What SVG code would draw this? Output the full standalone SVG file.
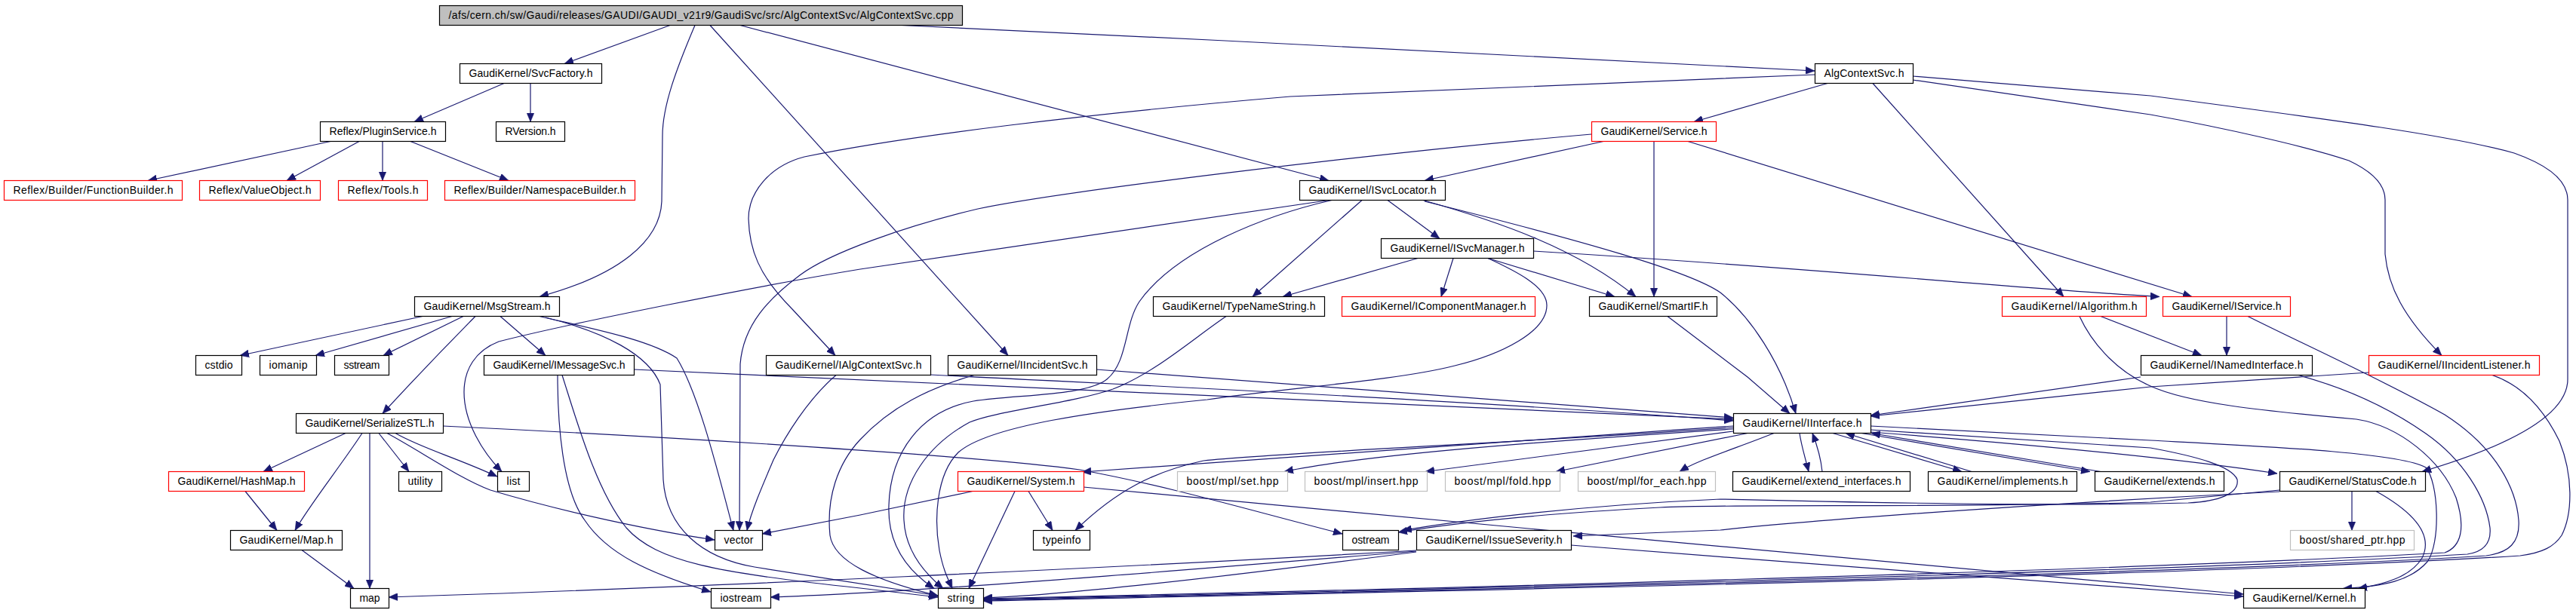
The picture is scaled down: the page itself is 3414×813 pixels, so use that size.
<svg xmlns="http://www.w3.org/2000/svg" width="3414" height="813" viewBox="0 0 3414 813">
<style>
.n rect{fill:#fff;stroke:#000;stroke-width:1.2}
.n.r rect{stroke:#ff0000}
.n.g rect{stroke:#bfbfbf}
.n.top rect{fill:#bfbfbf}
.n text{font-family:"Liberation Sans",Arial,sans-serif;font-size:14px;text-anchor:middle;fill:#000}
#edges path{fill:none;stroke:#191970;stroke-width:1.2;marker-end:url(#ah)}
</style>
<defs>
<marker id="ah" markerUnits="userSpaceOnUse" markerWidth="12" markerHeight="10" refX="12" refY="5" orient="auto">
<path d="M0,0 L12,5 L0,10 z" fill="#191970" stroke="#191970" stroke-width="0.5"/>
</marker>
</defs>
<rect width="3414" height="813" fill="#fff"/>
<g id="edges">
<path d="M888,33.5 L748,84.5"/>
<path d="M921,33.5 C897,90 878,140 878,180 L877,267 C875,320 820,365 715,393.5"/>
<path d="M941,33.5 L1336,471.5"/>
<path d="M981,33.5 L1761,239.5"/>
<path d="M1195,33.5 C1600,52 2100,78 2405,94"/>
<path d="M668,110.5 L549,161.5"/>
<path d="M703,110.5 L703,161.5"/>
<path d="M438,187.5 L196,239.5"/>
<path d="M476,187.5 L380,239.5"/>
<path d="M507,187.5 L507,239.5"/>
<path d="M544,187.5 L674,239.5"/>
<path d="M2422,110.5 L2245,161.5"/>
<path d="M2405,99 L1710,128 C1450,150 1200,180 1066,208 C1020,220 992,255 992,290 C993,330 1005,365 1050,410 L1107,471.5"/>
<path d="M2482,110.5 L2735,393.5"/>
<path d="M2535,106 L2850,152 C2950,170 3060,195 3113,213 C3145,228 3161,245 3161,265 L3161,337 C3165,380 3185,420 3236,471.5"/>
<path d="M2535,101 L2850,127 C3100,160 3250,180 3332,203 C3380,220 3403,240 3403,265 L3403,503 C3403,550 3330,590 3210,625.5"/>
<path d="M2125,187.5 L1888,239.5"/>
<path d="M2192,187.5 L2192,393.5"/>
<path d="M2237,187.5 L2905,393.5"/>
<path d="M2109,178 C1800,205 1400,255 1296,277 C1200,300 1100,335 1060,365 C1020,395 985,430 981,483 L980,703.5"/>
<path d="M1839,265.5 L1908,316.5"/>
<path d="M1886,265.5 C1990,295 2090,330 2168,393.5"/>
<path d="M1888,267 C2100,320 2240,360 2280,388 C2320,420 2360,480 2380,548.5"/>
<path d="M1805,265.5 L1660,393.5"/>
<path d="M1761,265.5 L1140,357 C1000,380 750,430 661,453 C630,465 615,490 615,520 C615,560 640,600 665,625.5"/>
<path d="M1765,265.5 C1680,285 1560,330 1510,400 C1490,430 1495,480 1467,503 C1440,525 1350,523 1290,532 C1220,545 1180,600 1178,670 C1176,720 1200,755 1238,780.5"/>
<path d="M1879,342.5 L1700,393.5"/>
<path d="M1926,342.5 L1910,393.5"/>
<path d="M1972,342.5 L2140,393.5"/>
<path d="M2032,333 C2400,355 2700,385 2862,393.5"/>
<path d="M1972,342.5 C2010,360 2050,380 2050,405 C2050,440 1990,470 1928,485 C1850,505 1700,515 1600,530 C1450,545 1310,565 1270,600 C1240,630 1238,690 1245,730 C1250,755 1255,765 1262,780.5"/>
<path d="M1625,419.5 C1580,450 1530,495 1475,516 C1420,535 1320,545 1285,560 C1230,590 1195,640 1198,690 C1200,730 1225,760 1250,780.5"/>
<path d="M2210,419.5 C2250,450 2290,480 2316,500 L2372,548.5"/>
<path d="M560,419.5 L318,471.5"/>
<path d="M599,419.5 L418,471.5"/>
<path d="M614,419.5 L508,471.5"/>
<path d="M630,419.5 C600,450 570,480 507,548.5"/>
<path d="M663,419.5 L723,471.5"/>
<path d="M715,419.5 C780,435 860,450 897,475 C925,520 950,620 972,703.5"/>
<path d="M723,421 C800,440 860,470 875,510 L879,636 C883,700 930,740 1000,752 C1080,765 1180,780 1243,790"/>
<path d="M840,490 C1300,510 1900,540 2297,556"/>
<path d="M739,497.5 C739,560 745,650 775,690 C805,735 860,760 942,785"/>
<path d="M745,497.5 C765,560 790,650 830,700 C870,745 950,760 1140,780 L1243,792"/>
<path d="M1233,497 C1600,515 2000,535 2297,558"/>
<path d="M1108,497.5 C1070,530 1040,580 1025,610 C1010,645 995,680 990,703.5"/>
<path d="M1453,490 C1800,515 2100,540 2297,554"/>
<path d="M1291,497.5 C1230,515 1180,540 1140,583 C1110,615 1095,660 1100,710 C1105,745 1160,770 1243,790"/>
<path d="M458,574.5 L349,625.5"/>
<path d="M480,574.5 C450,620 410,670 391,703.5"/>
<path d="M490,574.5 L490,780.5"/>
<path d="M502,574.5 L542,625.5"/>
<path d="M524,574.5 C560,595 600,605 659,632"/>
<path d="M513,574.5 C560,600 610,635 650,650 C750,680 870,705 947,716"/>
<path d="M587,565 C900,580 1300,605 1431,623 C1550,645 1650,675 1779,708"/>
<path d="M325,651.5 L367,703.5"/>
<path d="M400,729.5 L469,780.5"/>
<path d="M1363,651.5 L1395,703.5"/>
<path d="M1345,651.5 L1284,780.5"/>
<path d="M1289,651.5 L1140,683 L1010,708"/>
<path d="M1436,646 C1900,690 2500,745 2973,788"/>
<path d="M1877,730 C1500,752 900,780 515,792"/>
<path d="M1877,731 C1500,762 1200,786 1021,792"/>
<path d="M1877,732 C1600,768 1400,790 1303,793"/>
<path d="M2082,723 C2400,748 2750,775 2973,791"/>
<path d="M2297,565 C2000,585 1700,605 1434,626"/>
<path d="M2297,567 C2000,588 1700,600 1595,611 C1530,625 1480,650 1425,703.5"/>
<path d="M2297,569 C2000,588 1800,605 1702,625.5"/>
<path d="M2297,572 L1889,625.5"/>
<path d="M2316,574.5 L2062,625.5"/>
<path d="M2351,574.5 C2300,595 2250,610 2226,625.5"/>
<path d="M2385,574.5 C2387,590 2392,605 2397,625.5"/>
<path d="M2415,625.5 C2413,605 2408,590 2402,574.5"/>
<path d="M2429,574.5 L2600,625.5"/>
<path d="M2613,625.5 L2446,574.5"/>
<path d="M2467,574.5 L2770,625.5"/>
<path d="M2784,625.5 L2480,574.5"/>
<path d="M2479,573 C2700,590 2900,610 3018,628"/>
<path d="M2479,565 L2850,584 C3000,592 3180,600 3215,620 C3232,640 3235,720 3217,745 C3195,770 3160,778 3105,780.5"/>
<path d="M2479,570 L2850,594 C2910,605 2958,618 2965,636 C2968,655 2940,665 2900,667 C2700,672 2400,665 2280,662 C2100,670 1950,688 1859,703.5"/>
<path d="M3021,650 L2850,666 C2600,674 2300,668 2200,673 C2050,681 1930,693 1853,706"/>
<path d="M3021,652 C2700,668 2400,690 2280,703 L2085,711"/>
<path d="M3117,651.5 L3117,703.5"/>
<path d="M3149,651.5 C3200,680 3225,710 3210,740 C3195,765 3160,775 3125,780.5"/>
<path d="M2784,419.5 L2918,471.5"/>
<path d="M2951,419.5 L2951,471.5"/>
<path d="M2837,500 L2479,551"/>
<path d="M3139,494 L2850,513 L2479,552"/>
<path d="M2756,419.5 C2770,450 2800,490 2850,512 C2900,535 3000,545 3123,556 C3180,565 3235,610 3255,660 C3268,700 3262,725 3240,733 C2800,758 1800,783 1303,794"/>
<path d="M3046,497.5 C3110,515 3165,540 3215,575 C3265,610 3295,660 3300,700 C3302,722 3290,732 3270,735 C2850,760 1800,784 1303,795"/>
<path d="M2979,419.5 C3060,460 3160,505 3240,550 C3310,595 3335,650 3338,690 C3340,720 3325,733 3295,737 C2900,762 1800,785 1303,796"/>
<path d="M3303,497.5 C3340,510 3370,540 3392,585 C3410,630 3410,680 3395,710 C3385,725 3370,733 3340,737 C2900,765 1800,786 1303,797"/>
</g>
<g id="n_top" class="n top"><rect x="582.5" y="7.5" width="693" height="26"/><text x="929" y="25" textLength="669">/afs/cern.ch/sw/Gaudi/releases/GAUDI/GAUDI_v21r9/GaudiSvc/src/AlgContextSvc/AlgContextSvc.cpp</text></g>
<g id="n_svcfactory" class="n"><rect x="609.5" y="84.5" width="188" height="26"/><text x="703.5" y="102" textLength="164">GaudiKernel/SvcFactory.h</text></g>
<g id="n_algcontextsvc_h" class="n"><rect x="2405.5" y="84.5" width="130" height="26"/><text x="2470.5" y="102" textLength="106">AlgContextSvc.h</text></g>
<g id="n_pluginservice" class="n"><rect x="424.5" y="161.5" width="166" height="26"/><text x="507.5" y="179" textLength="142">Reflex/PluginService.h</text></g>
<g id="n_rversion" class="n"><rect x="657.5" y="161.5" width="91" height="26"/><text x="703" y="179" textLength="67">RVersion.h</text></g>
<g id="n_service" class="n r"><rect x="2109.5" y="161.5" width="165" height="26"/><text x="2192" y="179" textLength="141">GaudiKernel/Service.h</text></g>
<g id="n_functionbuilder" class="n r"><rect x="5.5" y="239.5" width="236" height="26"/><text x="123.5" y="257" textLength="212">Reflex/Builder/FunctionBuilder.h</text></g>
<g id="n_valueobject" class="n r"><rect x="264.5" y="239.5" width="160" height="26"/><text x="344.5" y="257" textLength="136">Reflex/ValueObject.h</text></g>
<g id="n_tools" class="n r"><rect x="448.5" y="239.5" width="118" height="26"/><text x="507.5" y="257" textLength="94">Reflex/Tools.h</text></g>
<g id="n_namespacebuilder" class="n r"><rect x="589.5" y="239.5" width="252" height="26"/><text x="715.5" y="257" textLength="228">Reflex/Builder/NamespaceBuilder.h</text></g>
<g id="n_isvclocator" class="n"><rect x="1722.5" y="239.5" width="193" height="26"/><text x="1819" y="257" textLength="169">GaudiKernel/ISvcLocator.h</text></g>
<g id="n_isvcmanager" class="n"><rect x="1830.5" y="316.5" width="202" height="26"/><text x="1931.5" y="334" textLength="178">GaudiKernel/ISvcManager.h</text></g>
<g id="n_msgstream" class="n"><rect x="549.5" y="393.5" width="192" height="26"/><text x="645.5" y="411" textLength="168">GaudiKernel/MsgStream.h</text></g>
<g id="n_typenamestring" class="n"><rect x="1528.5" y="393.5" width="227" height="26"/><text x="1642" y="411" textLength="203">GaudiKernel/TypeNameString.h</text></g>
<g id="n_icomponentmanager" class="n r"><rect x="1778.5" y="393.5" width="256" height="26"/><text x="1906.5" y="411" textLength="232">GaudiKernel/IComponentManager.h</text></g>
<g id="n_smartif" class="n"><rect x="2106.5" y="393.5" width="169" height="26"/><text x="2191" y="411" textLength="145">GaudiKernel/SmartIF.h</text></g>
<g id="n_ialgorithm" class="n r"><rect x="2653.5" y="393.5" width="191" height="26"/><text x="2749" y="411" textLength="167">GaudiKernel/IAlgorithm.h</text></g>
<g id="n_iservice" class="n r"><rect x="2866.5" y="393.5" width="169" height="26"/><text x="2951" y="411" textLength="145">GaudiKernel/IService.h</text></g>
<g id="n_cstdio" class="n"><rect x="259.5" y="471.5" width="61" height="26"/><text x="290" y="489" textLength="37">cstdio</text></g>
<g id="n_iomanip" class="n"><rect x="344.5" y="471.5" width="75" height="26"/><text x="382" y="489" textLength="51">iomanip</text></g>
<g id="n_sstream" class="n"><rect x="443.5" y="471.5" width="72" height="26"/><text x="479.5" y="489" textLength="48">sstream</text></g>
<g id="n_imessagesvc" class="n"><rect x="641.5" y="471.5" width="199" height="26"/><text x="741" y="489" textLength="175">GaudiKernel/IMessageSvc.h</text></g>
<g id="n_ialgcontextsvc" class="n"><rect x="1015.5" y="471.5" width="218" height="26"/><text x="1124.5" y="489" textLength="194">GaudiKernel/IAlgContextSvc.h</text></g>
<g id="n_iincidentsvc" class="n"><rect x="1256.5" y="471.5" width="197" height="26"/><text x="1355" y="489" textLength="173">GaudiKernel/IIncidentSvc.h</text></g>
<g id="n_inamedinterface" class="n"><rect x="2837.5" y="471.5" width="227" height="26"/><text x="2951" y="489" textLength="203">GaudiKernel/INamedInterface.h</text></g>
<g id="n_iincidentlistener" class="n r"><rect x="3139.5" y="471.5" width="226" height="26"/><text x="3252.5" y="489" textLength="202">GaudiKernel/IIncidentListener.h</text></g>
<g id="n_serializestl" class="n"><rect x="392.5" y="548.5" width="195" height="26"/><text x="490" y="566" textLength="171">GaudiKernel/SerializeSTL.h</text></g>
<g id="n_iinterface" class="n"><rect x="2297.5" y="548.5" width="182" height="26"/><text x="2388.5" y="566" textLength="158">GaudiKernel/IInterface.h</text></g>
<g id="n_hashmap" class="n r"><rect x="223.5" y="625.5" width="180" height="26"/><text x="313.5" y="643" textLength="156">GaudiKernel/HashMap.h</text></g>
<g id="n_utility" class="n"><rect x="528.5" y="625.5" width="57" height="26"/><text x="557" y="643" textLength="33">utility</text></g>
<g id="n_list" class="n"><rect x="659.5" y="625.5" width="42" height="26"/><text x="680.5" y="643" textLength="18">list</text></g>
<g id="n_system" class="n r"><rect x="1269.5" y="625.5" width="167" height="26"/><text x="1353" y="643" textLength="143">GaudiKernel/System.h</text></g>
<g id="n_mpl_set" class="n g"><rect x="1560.5" y="625.5" width="146" height="26"/><text x="1633.5" y="643" textLength="122">boost/mpl/set.hpp</text></g>
<g id="n_mpl_insert" class="n g"><rect x="1729.5" y="625.5" width="162" height="26"/><text x="1810.5" y="643" textLength="138">boost/mpl/insert.hpp</text></g>
<g id="n_mpl_fold" class="n g"><rect x="1915.5" y="625.5" width="152" height="26"/><text x="1991.5" y="643" textLength="128">boost/mpl/fold.hpp</text></g>
<g id="n_mpl_for_each" class="n g"><rect x="2091.5" y="625.5" width="182" height="26"/><text x="2182.5" y="643" textLength="158">boost/mpl/for_each.hpp</text></g>
<g id="n_extend_interfaces" class="n"><rect x="2296.5" y="625.5" width="235" height="26"/><text x="2414" y="643" textLength="211">GaudiKernel/extend_interfaces.h</text></g>
<g id="n_implements" class="n"><rect x="2555.5" y="625.5" width="197" height="26"/><text x="2654" y="643" textLength="173">GaudiKernel/implements.h</text></g>
<g id="n_extends" class="n"><rect x="2776.5" y="625.5" width="171" height="26"/><text x="2862" y="643" textLength="147">GaudiKernel/extends.h</text></g>
<g id="n_statuscode" class="n"><rect x="3021.5" y="625.5" width="193" height="26"/><text x="3118" y="643" textLength="169">GaudiKernel/StatusCode.h</text></g>
<g id="n_map_h" class="n"><rect x="305.5" y="703.5" width="148" height="26"/><text x="379.5" y="721" textLength="124">GaudiKernel/Map.h</text></g>
<g id="n_vector" class="n"><rect x="947.5" y="703.5" width="63" height="26"/><text x="979" y="721" textLength="39">vector</text></g>
<g id="n_typeinfo" class="n"><rect x="1369.5" y="703.5" width="75" height="26"/><text x="1407" y="721" textLength="51">typeinfo</text></g>
<g id="n_ostream" class="n"><rect x="1779.5" y="703.5" width="74" height="26"/><text x="1816.5" y="721" textLength="50">ostream</text></g>
<g id="n_issueseverity" class="n"><rect x="1877.5" y="703.5" width="205" height="26"/><text x="1980" y="721" textLength="181">GaudiKernel/IssueSeverity.h</text></g>
<g id="n_shared_ptr" class="n g"><rect x="3035.5" y="703.5" width="164" height="26"/><text x="3117.5" y="721" textLength="140">boost/shared_ptr.hpp</text></g>
<g id="n_map" class="n"><rect x="464.5" y="780.5" width="51" height="26"/><text x="490" y="798" textLength="27">map</text></g>
<g id="n_iostream" class="n"><rect x="942.5" y="780.5" width="79" height="26"/><text x="982" y="798" textLength="55">iostream</text></g>
<g id="n_string" class="n"><rect x="1243.5" y="780.5" width="60" height="26"/><text x="1273.5" y="798" textLength="36">string</text></g>
<g id="n_kernel" class="n"><rect x="2973.5" y="780.5" width="161" height="26"/><text x="3054" y="798" textLength="137">GaudiKernel/Kernel.h</text></g>
</svg>
